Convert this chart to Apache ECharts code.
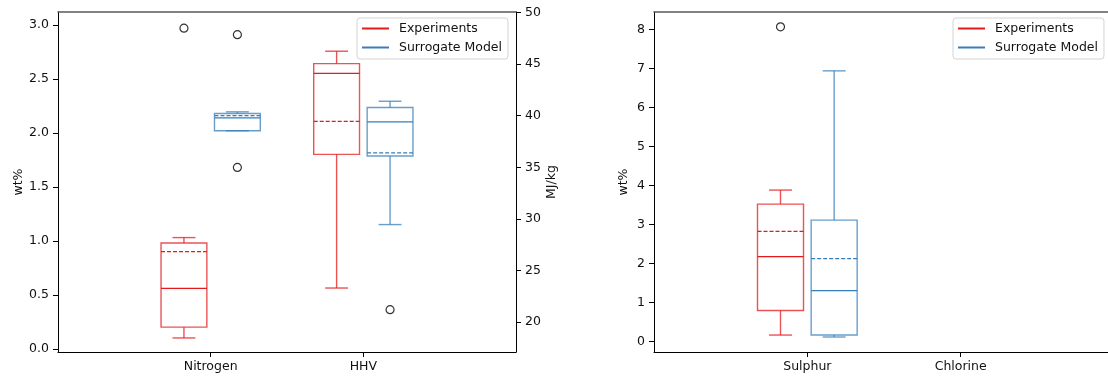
<!DOCTYPE html>
<html>
<head>
<meta charset="utf-8">
<script src="https://cdn.jsdelivr.net/npm/echarts@6/dist/echarts.min.js"></script>
<style>
  html, body { margin: 0; padding: 0; background: #fff; }
  #chart { width: 1108px; height: 380px; }
</style>
</head>
<body>
<div id="chart"></div>
<script>
// Categories of each panel
const categoriesLeft = ['Nitrogen', 'HHV'];
const categoriesRight = ['Sulphur', 'Chlorine'];
const groupNames = ['Experiments', 'Surrogate Model'];

// Box statistics: [lower whisker, Q1, median, Q3, upper whisker, mean]
const nitrogenExp = [0.10, 0.20, 0.56, 0.98, 1.03, 0.90];
const nitrogenSur = [2.02, 2.02, 2.14, 2.18, 2.195, 2.16];
const hhvExp      = [23.3, 36.25, 44.1, 45.05, 46.25, 39.45];
const hhvSur      = [29.45, 36.1, 39.4, 40.8, 41.4, 36.4];
const sulphurExp  = [0.16, 0.79, 2.17, 3.52, 3.88, 2.82];
const sulphurSur  = [0.11, 0.16, 1.30, 3.11, 6.94, 2.12];

// Outliers (fliers)
const nitrogenExpOut = [2.97];
const nitrogenSurOut = [2.91, 1.68];
const hhvExpOut      = [];
const hhvSurOut      = [21.2];
const sulphurExpOut  = [8.07];
const sulphurSurOut  = [];

// Tick values
const wtTicksLeft  = [0, 0.5, 1, 1.5, 2, 2.5, 3];
const mjTicks      = [20, 25, 30, 35, 40, 45, 50];
const wtTicksRight = [0, 1, 2, 3, 4, 5, 6, 7, 8];

// Styling / layout constants
const RED = '#e41a1c';
const BLUE = '#377eb8';
const FONT = 'DejaVu Sans';
const FS = 12.5;
const BOX_OFFSET = 0.175;
const BOX_WIDTH = 0.3;
const CAP_WIDTH = 0.15;

function boxRenderer(offset, color) {
  return function (params, api) {
    const x = api.value(0) + offset;
    const py = v => api.coord([x, v])[1];
    const cx = api.coord([x, api.value(3)])[0];
    const hw = api.size([BOX_WIDTH, 0])[0] / 2;
    const hc = api.size([CAP_WIDTH, 0])[0] / 2;
    const yLow = py(api.value(1)), yQ1 = py(api.value(2)), yMed = py(api.value(3));
    const yQ3 = py(api.value(4)), yHigh = py(api.value(5)), yMean = py(api.value(6));
    const frame = { stroke: color, lineWidth: 1.4, opacity: 0.75, fill: null };
    return {
      type: 'group',
      children: [
        { type: 'line', shape: { x1: cx, y1: yQ1, x2: cx, y2: yLow }, style: frame },
        { type: 'line', shape: { x1: cx, y1: yQ3, x2: cx, y2: yHigh }, style: frame },
        { type: 'line', shape: { x1: cx - hc, y1: yLow, x2: cx + hc, y2: yLow }, style: frame },
        { type: 'line', shape: { x1: cx - hc, y1: yHigh, x2: cx + hc, y2: yHigh }, style: frame },
        { type: 'rect', shape: { x: cx - hw, y: yQ3, width: 2 * hw, height: yQ1 - yQ3 }, style: frame },
        { type: 'line', shape: { x1: cx - hw, y1: yMed, x2: cx + hw, y2: yMed },
          style: { stroke: color, lineWidth: 1.3 } },
        { type: 'line', shape: { x1: cx - hw, y1: yMean, x2: cx + hw, y2: yMean },
          style: { stroke: color, lineWidth: 1.4, lineDash: [4, 2] } }
      ]
    };
  };
}

function boxSeries(name, stats, catPos, offset, color, xIdx, yIdx) {
  return {
    type: 'custom',
    name: name,
    xAxisIndex: xIdx,
    yAxisIndex: yIdx,
    silent: true,
    itemStyle: { color: color },
    renderItem: boxRenderer(offset, color),
    encode: { x: 0, y: [1, 2, 3, 4, 5, 6] },
    data: [[catPos].concat(stats)]
  };
}

function flierSeries(values, catPos, offset, xIdx, yIdx) {
  return {
    type: 'scatter',
    name: 'fliers',
    xAxisIndex: xIdx,
    yAxisIndex: yIdx,
    silent: true,
    symbol: 'circle',
    symbolSize: 8,
    itemStyle: { color: 'rgba(0,0,0,0)', borderColor: '#000', borderWidth: 1.2 },
    data: values.map(v => [catPos + offset, v])
  };
}

const labelStyle = { fontFamily: FONT, fontSize: FS, color: '#111' };
const lineBlack = { color: '#000', width: 1 };

function catAxis(gridIndex, cats) {
  const pos = cats.map((c, i) => i + 1);
  return {
    type: 'value', gridIndex: gridIndex, position: 'bottom', min: 0, max: 3,
    axisLine: { show: true, onZero: false, lineStyle: lineBlack },
    axisTick: { show: true, length: 5, lineStyle: lineBlack, customValues: pos },
    axisLabel: Object.assign({ margin: 8, customValues: pos,
      formatter: v => cats[Math.round(v) - 1] || '' }, labelStyle),
    splitLine: { show: false }
  };
}

function topAxis(gridIndex) {
  return {
    type: 'value', gridIndex: gridIndex, position: 'top', min: 0, max: 3,
    axisLine: { show: true, onZero: false, lineStyle: { color: '#5a5a5a', width: 1.5 } },
    axisTick: { show: false }, axisLabel: { show: false }, splitLine: { show: false }
  };
}

function valAxis(gridIndex, position, min, max, ticks, name, nameGap, fmt) {
  return {
    type: 'value', gridIndex: gridIndex, position: position, min: min, max: max,
    name: name, nameLocation: 'middle', nameRotate: 90, nameGap: nameGap,
    nameTextStyle: { fontFamily: FONT, fontSize: FS, color: '#111' },
    axisLine: { show: true, onZero: false, lineStyle: lineBlack },
    axisTick: { show: true, length: 5, lineStyle: lineBlack, customValues: ticks },
    axisLabel: Object.assign({ margin: 9, customValues: ticks, formatter: fmt }, labelStyle),
    splitLine: { show: false }
  };
}

function legendBox(left) {
  return {
    left: left, top: 18, orient: 'vertical', selectedMode: false,
    icon: 'rect', itemWidth: 27, itemHeight: 2, itemGap: 4,
    padding: [3, 6, 4, 5],
    borderColor: '#d4d4d4', borderWidth: 1, borderRadius: 3,
    backgroundColor: 'rgba(255,255,255,0.85)',
    textStyle: { fontFamily: FONT, fontSize: FS, color: '#111', lineHeight: 15, padding: [0, 0, 0, 5] },
    data: [
      { name: groupNames[0], itemStyle: { color: RED } },
      { name: groupNames[1], itemStyle: { color: BLUE } }
    ]
  };
}

const series = [
  boxSeries(groupNames[0], nitrogenExp, 1, -BOX_OFFSET, RED, 0, 0),
  boxSeries(groupNames[1], nitrogenSur, 1, BOX_OFFSET, BLUE, 0, 0),
  boxSeries(groupNames[0], hhvExp, 2, -BOX_OFFSET, RED, 0, 1),
  boxSeries(groupNames[1], hhvSur, 2, BOX_OFFSET, BLUE, 0, 1),
  boxSeries(groupNames[0], sulphurExp, 1, -BOX_OFFSET, RED, 2, 2),
  boxSeries(groupNames[1], sulphurSur, 1, BOX_OFFSET, BLUE, 2, 2),
  flierSeries(nitrogenExpOut, 1, -BOX_OFFSET, 0, 0),
  flierSeries(nitrogenSurOut, 1, BOX_OFFSET, 0, 0),
  flierSeries(hhvExpOut, 2, -BOX_OFFSET, 0, 1),
  flierSeries(hhvSurOut, 2, BOX_OFFSET, 0, 1),
  flierSeries(sulphurExpOut, 1, -BOX_OFFSET, 2, 2),
  flierSeries(sulphurSurOut, 1, BOX_OFFSET, 2, 2)
];

const chart = echarts.init(document.getElementById('chart'), null, { renderer: 'canvas' });
chart.setOption({
  animation: false,
  backgroundColor: '#fff',
  grid: [
    { left: 58, top: 12, width: 458, height: 340, outerBoundsMode: 'none' },
    { left: 654, top: 12, width: 460, height: 340, outerBoundsMode: 'none' }
  ],
  xAxis: [
    catAxis(0, categoriesLeft),
    topAxis(0),
    catAxis(1, categoriesRight),
    topAxis(1)
  ],
  yAxis: [
    valAxis(0, 'left', -0.03, 3.12, wtTicksLeft, 'wt%', 31, v => v.toFixed(1)),
    valAxis(0, 'right', 17.1, 50.05, mjTicks, 'MJ/kg', 29, v => String(v)),
    valAxis(1, 'left', -0.275, 8.45, wtTicksRight, 'wt%', 24, v => String(v))
  ],
  legend: [legendBox(357), legendBox(953)],
  series: series
});
</script>
</body>
</html>
